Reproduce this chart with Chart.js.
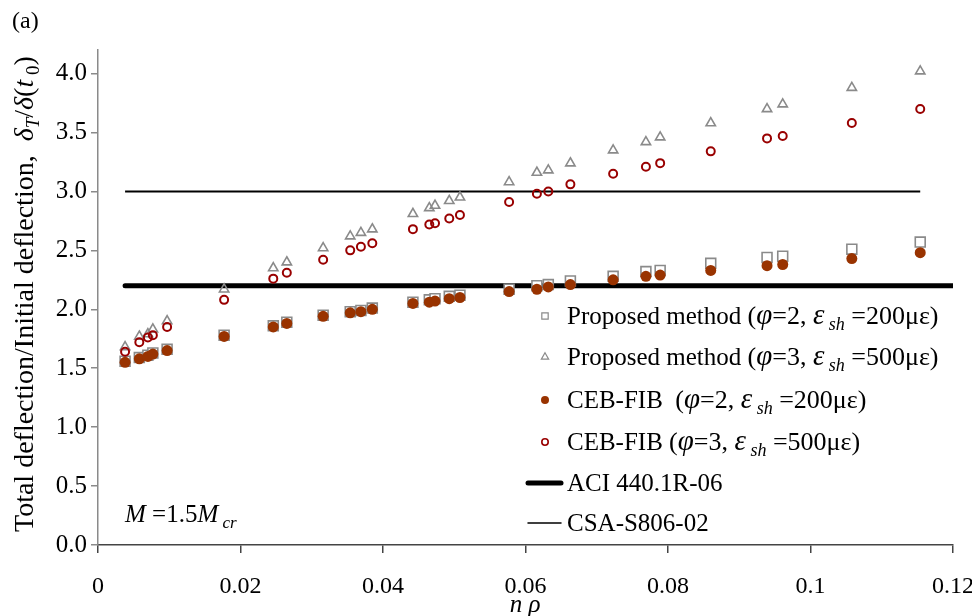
<!DOCTYPE html>
<html>
<head>
<meta charset="utf-8">
<title>Total deflection ratio vs n rho</title>
<script src="https://cdn.jsdelivr.net/npm/chart.js@4.4.1/dist/chart.umd.min.js"></script>
<style>
  html, body { margin: 0; padding: 0; background: #fff; }
  #chart { display: block; }
</style>
</head>
<body>
<canvas id="chart" width="972" height="616"></canvas>
<script>
// n*rho for each beam
const nRho = [0.0038, 0.0058, 0.0070, 0.0077, 0.0097, 0.0177, 0.0246, 0.0265, 0.0316, 0.0354,
  0.0369, 0.0385, 0.0442, 0.0465, 0.0473, 0.0493, 0.0508, 0.0577, 0.0616, 0.0632,
  0.0663, 0.0723, 0.0769, 0.0789, 0.0860, 0.0939, 0.0961, 0.1058, 0.1154];

// total / initial deflection
const proposedPhi2 = [1.56, 1.59, 1.61, 1.63, 1.66, 1.78, 1.86, 1.89, 1.95, 1.98,
  1.99, 2.01, 2.06, 2.08, 2.09, 2.11, 2.12, 2.17, 2.20, 2.21,
  2.24, 2.28, 2.32, 2.33, 2.39, 2.44, 2.45, 2.51, 2.57];
const proposedPhi3 = [1.68, 1.77, 1.79, 1.83, 1.90, 2.17, 2.35, 2.40, 2.52, 2.62,
  2.65, 2.68, 2.81, 2.86, 2.88, 2.92, 2.95, 3.08, 3.16, 3.18,
  3.24, 3.35, 3.42, 3.46, 3.58, 3.70, 3.74, 3.88, 4.02];
const cebPhi2 = [1.55, 1.58, 1.60, 1.62, 1.65, 1.77, 1.85, 1.88, 1.94, 1.97,
  1.98, 2.00, 2.05, 2.06, 2.07, 2.09, 2.10, 2.15, 2.17, 2.19,
  2.21, 2.25, 2.28, 2.29, 2.33, 2.37, 2.38, 2.43, 2.48];
const cebPhi3 = [1.64, 1.72, 1.76, 1.78, 1.85, 2.08, 2.26, 2.31, 2.42, 2.50,
  2.53, 2.56, 2.68, 2.72, 2.73, 2.77, 2.80, 2.91, 2.98, 3.00,
  3.06, 3.15, 3.21, 3.24, 3.34, 3.45, 3.47, 3.58, 3.70];

// code limits (constant multipliers)
const aciLimit = 2.2;
const aciRange = [0.0038, 0.12];
const csaLimit = 3.0;
const csaRange = [0.0038, 0.1154];

const xTicks = [0, 0.02, 0.04, 0.06, 0.08, 0.1, 0.12];
const yTicks = [0, 0.5, 1.0, 1.5, 2.0, 2.5, 3.0, 3.5, 4.0];

const FONT = '"Liberation Serif", "Times New Roman", serif';
const BROWN = '#993300';
const DARKRED = '#990000';
const GREY = '#8a8a8a';

const pts = ys => nRho.map((x, i) => ({ x, y: ys[i] }));
const hline = (range, y) => range.map(x => ({ x, y }));

// draws a run of text pieces, some italic, some Greek (a touch larger), some lowered as subscripts
function drawRich(ctx, segs, x, y, size) {
  let cx = x;
  segs.forEach(s => {
    const base = s.big ? size + 1 : size;
    let sz = s.sub ? Math.round(base * 0.68) : base;
    if (s.g) sz = Math.round(base * 1.12);
    ctx.font = (s.i ? 'italic ' : '') + sz + 'px ' + FONT;
    ctx.fillText(s.t, cx, y + (s.sub ? size * 0.22 : 0));
    cx += ctx.measureText(s.t).width;
  });
  return cx;
}

// "(φ=n, ε sh =...με)" part of the point legend entries
const params = (phi, eps) => [
  { t: '(', big: 1 }, { t: 'φ', i: 1, g: 1, big: 1 }, { t: '=' + phi + ', ', big: 1 },
  { t: 'ε', i: 1, g: 1, big: 1 }, { t: ' sh', i: 1, sub: 1, big: 1 }, { t: ' =' + eps + 'με)', big: 1 }
];

const legendRows = [
  { kind: 'point', style: 'rect', r: 4.5, fill: '#fff', stroke: GREY, bw: 1.2,
    segs: [{ t: 'Proposed method ' }, ...params(2, 200)] },
  { kind: 'point', style: 'triangle', r: 4.2, fill: '#fff', stroke: GREY, bw: 1.2,
    segs: [{ t: 'Proposed method ' }, ...params(3, 500)] },
  { kind: 'point', style: 'circle', r: 4, fill: BROWN, stroke: BROWN, bw: 0,
    segs: [{ t: 'CEB-FIB  ' }, ...params(2, 200)] },
  { kind: 'point', style: 'circle', r: 3.2, fill: '#fff', stroke: DARKRED, bw: 1.6,
    segs: [{ t: 'CEB-FIB ' }, ...params(3, 500)] },
  { kind: 'line', width: 5, segs: [{ t: 'ACI 440.1R-06' }] },
  { kind: 'line', width: 1.5, segs: [{ t: 'CSA-S806-02' }] }
];
const legendY = [316, 357, 400, 442, 483, 523];

const textPlugin = {
  id: 'richText',
  afterDraw(chart) {
    const ctx = chart.ctx;
    ctx.save();
    ctx.fillStyle = '#000';
    ctx.textBaseline = 'alphabetic';
    ctx.textAlign = 'left';

    drawRich(ctx, [{ t: '(a)' }], 12, 28, 24);

    // y axis title, rotated
    ctx.save();
    ctx.translate(33, 532);
    ctx.rotate(-Math.PI / 2);
    drawRich(ctx, [
      { t: 'Total deflection/Initial deflection,  ' },
      { t: 'δ', i: 1 }, { t: 'T', i: 1, sub: 1 }, { t: '/' }, { t: 'δ', i: 1 },
      { t: '(' }, { t: 't', i: 1 }, { t: ' 0', sub: 1 }, { t: ')' }
    ], 0, 0, 28);
    ctx.restore();

    // x axis title
    ctx.font = 'italic 25px ' + FONT;
    const xt = 'n ρ';
    ctx.fillText(xt, 525 - ctx.measureText(xt).width / 2, 612);

    drawRich(ctx, [{ t: 'M', i: 1 }, { t: ' =1.5' }, { t: 'M', i: 1 }, { t: ' cr', i: 1, sub: 1 }], 125, 522, 25);

    // legend
    legendRows.forEach((row, k) => {
      const y = legendY[k];
      if (row.kind === 'line') {
        ctx.strokeStyle = '#000';
        ctx.lineWidth = row.width;
        ctx.lineCap = 'round';
        ctx.beginPath();
        ctx.moveTo(528, y);
        ctx.lineTo(561, y);
        ctx.stroke();
      } else {
        ctx.fillStyle = row.fill;
        ctx.strokeStyle = row.stroke;
        ctx.lineWidth = row.bw;
        Chart.helpers.drawPoint(ctx, { pointStyle: row.style, rotation: 0, radius: row.r, borderWidth: row.bw }, 545, y);
      }
      ctx.fillStyle = '#000';
      drawRich(ctx, row.segs, 567, y + 8, 25);
    });
    ctx.restore();
  }
};

const pointSet = (data, style, radius, fill, stroke, bw, order) => ({
  data, pointStyle: style, pointRadius: radius, pointHoverRadius: radius,
  backgroundColor: fill, borderColor: stroke, pointBorderWidth: bw, borderWidth: bw,
  showLine: false, order
});

new Chart(document.getElementById('chart'), {
  type: 'scatter',
  data: {
    datasets: [
      { data: hline(aciRange, aciLimit), showLine: true, borderColor: '#000', borderWidth: 5,
        pointRadius: 0, borderCapStyle: 'round', order: 6 },
      { data: hline(csaRange, csaLimit), showLine: true, borderColor: '#000', borderWidth: 2,
        pointRadius: 0, order: 5 },
      pointSet(pts(proposedPhi3), 'triangle', 5.4, 'rgba(255,255,255,0)', GREY, 1.6, 4),
      pointSet(pts(proposedPhi2), 'rect', 7, '#fff', GREY, 1.6, 3),
      pointSet(pts(cebPhi3), 'circle', 4, 'rgba(255,255,255,0)', DARKRED, 2, 2),
      pointSet(pts(cebPhi2), 'circle', 5.5, BROWN, BROWN, 0, 1)
    ]
  },
  options: {
    responsive: false,
    animation: false,
    events: [],
    layout: { padding: { top: 50, right: 19, left: 0, bottom: 0 } },
    plugins: { legend: { display: false }, tooltip: { enabled: false } },
    scales: {
      x: {
        type: 'linear', min: 0, max: 0.12,
        afterBuildTicks: s => { s.ticks = xTicks.map(value => ({ value })); },
        afterFit: s => { s.height = 71; s.paddingLeft = 0; s.paddingRight = 0; },
        border: { color: '#444', width: 1.5 },
        grid: { drawOnChartArea: false, drawTicks: true, tickLength: 8, color: '#444', lineWidth: 1.5 },
        ticks: {
          font: { family: FONT, size: 24 }, color: '#000', padding: 19,
          maxRotation: 0,
          callback: v => String(Number(v.toFixed(2)))
        }
      },
      y: {
        type: 'linear', min: 0, max: 4.2,
        afterBuildTicks: s => { s.ticks = yTicks.map(value => ({ value })); },
        afterFit: s => { s.width = 98; s.paddingTop = 0; s.paddingBottom = 0; },
        border: { color: '#8a8a8a', width: 1.5 },
        grid: { drawOnChartArea: false, drawTicks: true, tickLength: 7, color: '#8a8a8a', lineWidth: 1.5 },
        ticks: {
          font: { family: FONT, size: 25 }, color: '#000', padding: 4,
          callback: v => v.toFixed(1)
        }
      }
    }
  },
  plugins: [textPlugin]
});
</script>
</body>
</html>
